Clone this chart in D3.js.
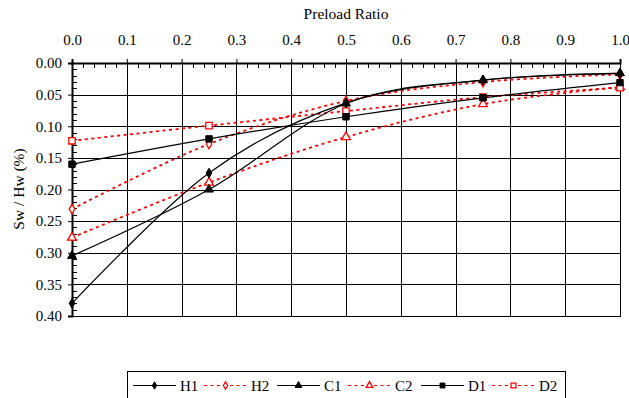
<!DOCTYPE html>
<html>
<head>
<meta charset="utf-8">
<script src="https://cdn.jsdelivr.net/npm/d3@7"></script>
<style>
  body { margin: 0; background: #fff; }
  text { font-family: "Liberation Serif", "Times New Roman", serif; }
</style>
</head>
<body>
<svg id="chart" width="629" height="398"></svg>
<script>
// preload ratios where each test was measured
const ratios = [0, 0.25, 0.5, 0.75, 1.0];

const seriesNames = ["H1", "H2", "C1", "C2", "D1", "D2"];
const h1 = [0.380, 0.174, 0.063, 0.027, 0.017];
const h2 = [0.231, 0.128, 0.060, 0.030, 0.018];
const c1 = [0.305, 0.200, 0.064, 0.027, 0.016];
const c2 = [0.276, 0.189, 0.117, 0.065, 0.038];
const d1 = [0.160, 0.120, 0.085, 0.055, 0.031];
const d2 = [0.123, 0.099, 0.076, 0.054, 0.039];

const xTicks = [0, 0.1, 0.2, 0.3, 0.4, 0.5, 0.6, 0.7, 0.8, 0.9, 1.0];
const yTicks = [0, 0.05, 0.1, 0.15, 0.2, 0.25, 0.3, 0.35, 0.4];

const FONT = "'Liberation Serif', 'Times New Roman', serif";

const styles = {
  H1: { color: "#000", dash: null, shape: "diamond", fill: true },
  H2: { color: "#f00", dash: "3,3.5", shape: "diamond", fill: false },
  C1: { color: "#000", dash: null, shape: "triangle", fill: true },
  C2: { color: "#f00", dash: "3,3.5", shape: "triangle", fill: false },
  D1: { color: "#000", dash: null, shape: "square", fill: true },
  D2: { color: "#f00", dash: "3,3.5", shape: "square", fill: false }
};
const values = { H1: h1, H2: h2, C1: c1, C2: c2, D1: d1, D2: d2 };

const svg = d3.select("#chart");
const margin = { top: 63, left: 72, right: 9, bottom: 82 };
const width = 629 - margin.left - margin.right;
const height = 398 - margin.top - margin.bottom;

const x = d3.scaleLinear().domain([0, 1]).range([0, width]);
const y = d3.scaleLinear().domain([0, 0.4]).range([0, height]);

const g = svg.append("g")
  .attr("transform", "translate(" + margin.left + "," + margin.top + ")");

// grid
g.append("g").selectAll("line").data(xTicks).enter().append("line")
  .attr("x1", d => Math.round(x(d)) + 0.5).attr("x2", d => Math.round(x(d)) + 0.5)
  .attr("y1", 0).attr("y2", height)
  .attr("stroke", "#000").attr("stroke-width", 1);
g.append("g").selectAll("line").data(yTicks).enter().append("line")
  .attr("y1", d => Math.round(y(d)) + 0.5).attr("y2", d => Math.round(y(d)) + 0.5)
  .attr("x1", 0).attr("x2", width)
  .attr("stroke", "#000").attr("stroke-width", 1);

// frame
g.append("rect")
  .attr("x", 0.5).attr("y", 0.5)
  .attr("width", width).attr("height", height)
  .attr("fill", "none").attr("stroke", "#000").attr("stroke-width", 1);

// top axis
const xAxis = g.append("g")
  .call(d3.axisTop(x).tickValues(xTicks).tickFormat(d3.format(".1f")).tickSize(4).tickPadding(14));
xAxis.attr("font-family", FONT).attr("font-size", 15);
xAxis.select(".domain").attr("stroke-width", 2);
xAxis.selectAll("text").style("font-family", FONT).style("font-size", "15px").attr("fill", "#000");
g.append("g").selectAll("line").data(d3.range(0, 1.0001, 0.02)).enter().append("line")
  .attr("x1", d => Math.round(x(d)) + 0.5).attr("x2", d => Math.round(x(d)) + 0.5)
  .attr("y1", 0).attr("y2", 5)
  .attr("stroke", "#000");

// left axis
const yAxis = g.append("g")
  .call(d3.axisLeft(y).tickValues(yTicks).tickFormat(d3.format(".2f")).tickSize(4).tickPadding(6));
yAxis.attr("font-family", FONT).attr("font-size", 15);
yAxis.select(".domain").attr("stroke-width", 2);
yAxis.selectAll("text").style("font-family", FONT).style("font-size", "15px").attr("fill", "#000");
g.append("g").selectAll("line").data(d3.range(0, 0.4001, 0.01)).enter().append("line")
  .attr("y1", d => Math.round(y(d)) + 0.5).attr("y2", d => Math.round(y(d)) + 0.5)
  .attr("x1", 0).attr("x2", 5)
  .attr("stroke", "#000");

// titles
svg.append("text")
  .attr("x", 346).attr("y", 19)
  .attr("text-anchor", "middle")
  .style("font-family", FONT).style("font-size", "15.5px")
  .text("Preload Ratio");
svg.append("text")
  .attr("transform", "translate(24,189) rotate(-90)")
  .attr("text-anchor", "middle")
  .style("font-family", FONT).style("font-size", "15.5px")
  .text("Sw / Hw (%)");

function marker(sel, st, size) {
  let path;
  if (st.shape === "diamond") path = d3.symbol().type(d3.symbolDiamond).size(size * 0.8)();
  else if (st.shape === "triangle") path = d3.symbol().type(d3.symbolTriangle).size(size)();
  else path = d3.symbol().type(d3.symbolSquare).size(size * 1.2)();
  return sel.append("path")
    .attr("d", path)
    .attr("fill", st.fill ? st.color : "#fff")
    .attr("stroke", st.color)
    .attr("stroke-width", st.fill ? 1 : 1.3);
}

const line = d3.line()
  .x((d, i) => x(ratios[i]))
  .y(d => y(d))
  .curve(d3.curveCardinal);

// draw red dashed first, black on top
const order = ["H2", "C2", "D2", "H1", "C1", "D1"];
order.forEach(name => {
  const st = styles[name];
  g.append("path")
    .datum(values[name])
    .attr("fill", "none")
    .attr("stroke", st.color)
    .attr("stroke-width", st.dash ? 1.8 : 1.2)
    .attr("stroke-dasharray", st.dash)
    .attr("d", line);
});
order.forEach(name => {
  const st = styles[name];
  values[name].forEach((v, i) => {
    marker(g.append("g").attr("transform", "translate(" + x(ratios[i]) + "," + y(v) + ")"), st, 34);
  });
});

// legend
const legend = svg.append("g");
legend.append("rect")
  .attr("x", 127.5).attr("y", 371.5)
  .attr("width", 438).attr("height", 40)
  .attr("fill", "#fff").attr("stroke", "#000").attr("stroke-width", 1);
const legX = [133, 204, 277, 348, 421, 492];
seriesNames.forEach((name, i) => {
  const st = styles[name];
  const lg = legend.append("g").attr("transform", "translate(" + legX[i] + ",385)");
  lg.append("line")
    .attr("x1", 0).attr("x2", 43).attr("y1", 0.5).attr("y2", 0.5)
    .attr("stroke", st.color)
    .attr("stroke-width", 1.2)
    .attr("stroke-dasharray", st.dash);
  marker(lg.append("g").attr("transform", "translate(21.5,0.5)"), st, 20);
  lg.append("text")
    .attr("x", 47).attr("y", 5.5)
    .style("font-family", FONT).style("font-size", "15px")
    .text(name);
});
</script>
</body>
</html>
